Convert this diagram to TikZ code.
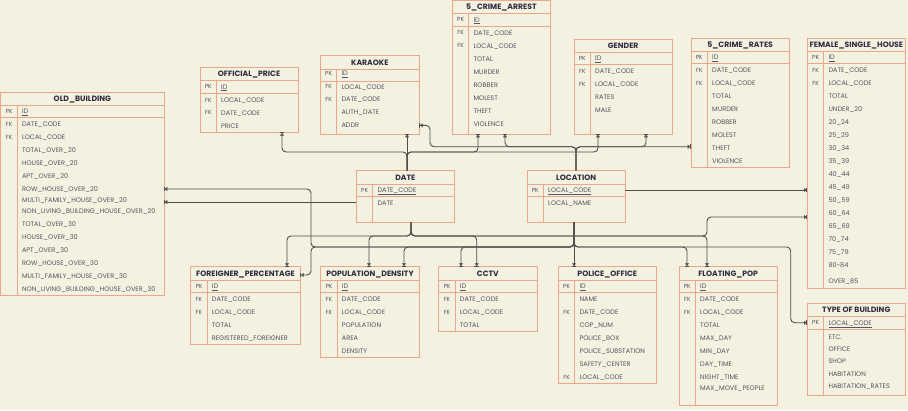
\documentclass[tikz,border=0pt]{standalone}
\usepackage{fontspec}
\setmainfont{Poppins}
\usetikzlibrary{arrows.meta, fit}

\definecolor{bgc}{RGB}{244,241,224}
\definecolor{tblc}{RGB}{236,166,140}
\definecolor{txtc}{RGB}{84,84,98}
\definecolor{ttlc}{RGB}{46,46,64}
\definecolor{linec}{RGB}{78,78,74}

% one table: name, left, top, right, bottom, title, rows (y/key/field)
\newcommand{\ertable}[7]{%
  \node[tblbox, fit={(#2,#3) (#4,#5)}] (#1) {};
  \node[tbltitle] (#1-t) at ([yshift=-6.7pt]#1.north) {#6};
  \draw[tblline] ([yshift=-13.3pt]#1.north west) -- ([yshift=-13.3pt]#1.north east);
  \draw[tblline] ([yshift=-25.8pt]#1.north west) -- ([yshift=-25.8pt]#1.north east);
  \draw[tblline] ([xshift=16.5pt,yshift=-13.3pt]#1.north west) -- ([xshift=16.5pt]#1.south west);
  \foreach \y/\k/\f [count=\i] in {#7}{
    \node[keytxt] (#1-k\i) at (#2+8.3,\y) {\k};
    \node[fldtxt] (#1-f\i) at (#2+21,\y) {\f};
  }
}

\begin{document}
\begin{tikzpicture}[x=1pt, y=-1pt,
  tblbox/.style={draw=tblc, line width=1pt, inner sep=0pt, outer sep=0pt},
  tblline/.style={draw=tblc, line width=1pt},
  tbltitle/.style={font=\bfseries\fontsize{7.7}{9}\selectfont, text=ttlc, inner sep=0pt, text height=5.2pt, text depth=0pt},
  keytxt/.style={font=\fontsize{5.9}{7}\selectfont, text=txtc, inner sep=0pt, text height=4.2pt, text depth=0pt},
  fldtxt/.style={anchor=west, font=\fontsize{6.55}{7.5}\selectfont, text=txtc, inner sep=0pt, text height=4.6pt, text depth=0pt},
  conn/.style={draw=linec, line width=0.9pt, rounded corners=4pt,
    -{Triangle[length=2.4pt,width=4pt]Bar[width=4.5pt]}}]

\fill[bgc] (0,0) rectangle (908,410);
\useasboundingbox (0,0) rectangle (908,410);

% tables
\ertable{oldb}{0.8}{92}{164}{295.5}{OLD\_BUILDING}{111.3/PK/\underline{ID}, 124.3/FK/DATE\_CODE, 137.3/FK/LOCAL\_CODE, 150.3//TOTAL\_OVER\_20, 163.3//HOUSE\_OVER\_20, 176.3//APT\_OVER\_20, 189.3//ROW\_HOUSE\_OVER\_20, 200.3//MULTI\_FAMILY\_HOUSE\_OVER\_20, 211.3//NON\_LIVING\_BUILDING\_HOUSE\_OVER\_20, 224//TOTAL\_OVER\_30, 237//HOUSE\_OVER\_30, 250//APT\_OVER\_30, 263//ROW\_HOUSE\_OVER\_30, 276//MULTI\_FAMILY\_HOUSE\_OVER\_30, 288.7//NON\_LIVING\_BUILDING\_HOUSE\_OVER\_30}
\ertable{offp}{200}{67.3}{298}{132.3}{OFFICIAL\_PRICE}{86.7/PK/\underline{ID}, 100/FK/LOCAL\_CODE, 112.7/FK/DATE\_CODE, 125.7//PRICE}
\ertable{kara}{320.3}{55.7}{419.3}{134}{KARAOKE}{73.3/PK/\underline{ID}, 86.7/FK/LOCAL\_CODE, 99.3/FK/DATE\_CODE, 112.3//AUTH\_DATE, 125.3//ADDR}
\ertable{arst}{452.3}{0.6}{550.3}{134}{5\_CRIME\_ARREST}{19.7/PK/\underline{ID}, 32.7/FK/DATE\_CODE, 45.7/FK/LOCAL\_CODE, 58.7//TOTAL, 71.7//MURDER, 84.7//ROBBER, 97.7//MOLEST, 110.7//THEFT, 123.7//VIOLENCE}
\ertable{gend}{574}{39}{672.3}{134}{GENDER}{58.3/PK/\underline{ID}, 71.3/FK/DATE\_CODE, 84.3/FK/LOCAL\_CODE, 97.3//RATES, 110.3//MALE}
\ertable{rate}{691}{38}{789.3}{167.3}{5\_CRIME\_RATES}{57.3/PK/\underline{ID}, 70.3/FK/DATE\_CODE, 83.3/FK/LOCAL\_CODE, 96.3//TOTAL, 109.3//MURDER, 122.3//ROBBER, 135.3//MOLEST, 148.3//THEFT, 161.3//VIOLENCE}
\ertable{fsh}{807.3}{38}{905.5}{288.7}{FEMALE\_SINGLE\_HOUSE}{57.3/PK/\underline{ID}, 70.3/FK/DATE\_CODE, 83.3/FK/LOCAL\_CODE, 96.3//TOTAL, 109.3//UNDER\_20, 122.3//20\_24, 135.3//25\_29, 148.3//30\_34, 161.3//35\_39, 174.3//40\_44, 187.3//45\_49, 200.3//50\_59, 213.3//60\_64, 226.3//65\_69, 239.3//70\_74, 252.3//75\_79, 265.3//80\textasciitilde84, 280.7//OVER\_85}
\ertable{date}{356.3}{170.7}{454.3}{222}{DATE}{190/PK/\underline{DATE\_CODE}, 202.7//DATE}
\ertable{loc}{527}{170.7}{625.3}{222}{LOCATION}{190/PK/\underline{LOCAL\_CODE}, 202.7//LOCAL\_NAME}
\ertable{frgn}{190.7}{266.7}{300.3}{344.3}{FOREIGNER\_PERCENTAGE}{286.3/PK/\underline{ID}, 299.3/FK/DATE\_CODE, 312.3/FK/LOCAL\_CODE, 325.3//TOTAL, 338.3//REGISTERED\_FOREIGNER}
\ertable{popd}{320.7}{266.7}{419.3}{357.7}{POPULATION\_DENSITY}{286.3/PK/\underline{ID}, 299.3/FK/DATE\_CODE, 312.3/FK/LOCAL\_CODE, 325.3//POPULATION, 338.3//AREA, 351.3//DENSITY}
\ertable{cctv}{438.7}{266.7}{537}{331.3}{CCTV}{286.3/PK/\underline{ID}, 299.3/FK/DATE\_CODE, 312.3/FK/LOCAL\_CODE, 325.3//TOTAL}
\ertable{plce}{558.3}{266.7}{656.3}{383.3}{POLICE\_OFFICE}{286.3/PK/\underline{ID}, 299.3//NAME, 312.3/FK/DATE\_CODE, 325.3//COP\_NUM, 338.3//POLICE\_BOX, 351.3//POLICE\_SUBSTATION, 364.3//SAFETY\_CENTER, 377.3/FK/LOCAL\_CODE}
\ertable{flpp}{679}{266.7}{777.3}{405.3}{FLOATING\_POP}{286.3/PK/\underline{ID}, 299.3/FK/DATE\_CODE, 312.3/FK/LOCAL\_CODE, 325.3//TOTAL, 338.3//MAX\_DAY, 351.3//MIN\_DAY, 364.3//DAY\_TIME, 377.3//NIGHT\_TIME, 388//MAX\_MOVE\_PEOPLE}
\ertable{tob}{807.3}{303.3}{905.3}{395.3}{TYPE OF BUILDING}{322.7/PK/\underline{LOCAL\_CODE}, 337.3//ETC., 348.7//OFFICE, 361.3//SHOP, 374//HABITATION, 386//HABITATION\_RATES}

% DATE, upwards
\draw[conn] (407,0 |- date.north) -- (407,152) -| (282,0 |- offp.south);
\draw[conn] (407,0 |- date.north) -- (407,0 |- kara.south);
\draw[conn] (407,0 |- date.north) -- (407,152) -| (478,0 |- arst.south);
\draw[conn] (407,0 |- date.north) -- (407,152) -| (598,0 |- gend.south);
% LOCATION, upwards
\draw[conn] (576,0 |- loc.north) -- (576,146.7) -| (430,125.3) -- (kara.east |- 0,125.3);
\draw[conn] (576,0 |- loc.north) -- (576,146.7) -| (505,0 |- arst.south);
\draw[conn] (576,0 |- loc.north) -- (576,146.7) -| (646,0 |- gend.south);
\draw[conn] (576,0 |- loc.north) -- (576,146.7) -- (rate.west |- 0,146.7);
% sideways
\draw[conn] (loc.east |- 0,190) -- (fsh.west |- 0,190);
\draw[conn] (date.west |- 0,202) -- (oldb.east |- 0,202);
% DATE, downwards
\draw[conn] (411,0 |- date.south) -- (411,236) -| (287,0 |- frgn.north);
\draw[conn] (411,0 |- date.south) -- (411,236) -| (369,0 |- popd.north);
\draw[conn] (411,0 |- date.south) -- (411,236) -| (476.7,0 |- cctv.north);
\draw[conn] (411,0 |- date.south) -- (411,236) -| (707,217) -- (fsh.west |- 0,217);
\draw[conn] (411,0 |- date.south) -- (411,236) -| (707,0 |- flpp.north);
% LOCATION, downwards
\draw[conn] (574,0 |- loc.south) -- (574,0 |- plce.north);
\draw[conn] (574,0 |- loc.south) -- (574,247) -| (311,189) -- (oldb.east |- 0,189);
\draw[conn] (574,0 |- loc.south) -- (574,247) -| (311,275) -- (frgn.east |- 0,275);
\draw[conn] (574,0 |- loc.south) -- (574,247) -| (404,0 |- popd.north);
\draw[conn] (574,0 |- loc.south) -- (574,247) -| (461,0 |- cctv.north);
\draw[conn] (574,0 |- loc.south) -- (574,247) -| (687,0 |- flpp.north);
\draw[conn] (574,0 |- loc.south) -- (574,247) -| (790.7,322.7) -- (tob.west |- 0,322.7);
\end{tikzpicture}
\end{document}
